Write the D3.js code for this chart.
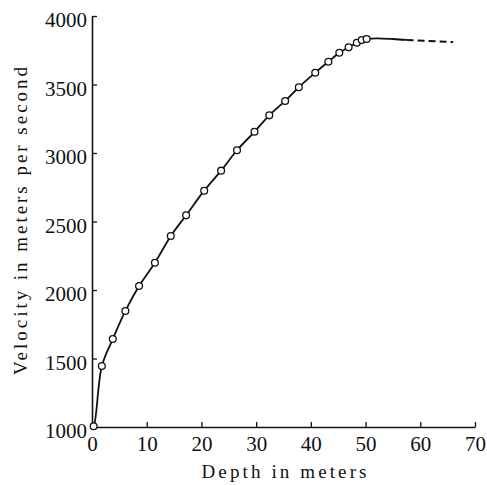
<!DOCTYPE html>
<html>
<head>
<meta charset="utf-8">
<script src="https://cdn.jsdelivr.net/npm/d3@7"></script>
<style>
  html, body { margin: 0; padding: 0; background: #fff; }
  svg { display: block; }
  text { font-family: "Liberation Serif", "DejaVu Serif", serif; fill: #111; }
</style>
</head>
<body>
<script>
// Measured points (depth in m, velocity in m/s)
const depths     = [0.3, 1.8, 3.8, 6.1, 8.6, 11.5, 14.4, 17.2, 20.5, 23.6, 26.5, 29.7, 32.4, 35.3, 37.8, 40.8, 43.2, 45.2, 46.9, 48.4, 49.3, 50.2];
const velocities = [1005, 1445, 1642, 1847, 2029, 2199, 2394, 2545, 2725, 2871, 3020, 3155, 3275, 3380, 3480, 3586, 3666, 3732, 3771, 3805, 3825, 3832];
// Continuation of the curve beyond the last measured point
const solidTailDepth = [52.0, 55.0, 57.5];
const solidTailVel   = [3837, 3832, 3825];
const dashDepth = [57.5, 66.0];
const dashVel   = [3825, 3810];
const xTicks = [0, 10, 20, 30, 40, 50, 60, 70];
const yTicks = [1000, 1500, 2000, 2500, 3000, 3500, 4000];
const xTitle = "Depth in meters";
const yTitle = "Velocity in meters per second";

const W = 487, H = 485;
const svg = d3.select("body").append("svg").attr("width", W).attr("height", H);

const x = d3.scaleLinear().domain([0, 70]).range([92, 475]);
const y = d3.scaleLinear().domain([1000, 4000]).range([427, 16]);

// axes
const xAxis = d3.axisBottom(x).tickValues(xTicks).tickFormat(d3.format("d")).tickSize(-5).tickPadding(9).tickSizeOuter(0);
const yAxis = d3.axisLeft(y).tickValues(yTicks).tickFormat(d3.format("d")).tickSize(-5).tickPadding(5).tickSizeOuter(0);

const gx = svg.append("g").attr("transform", "translate(0,427)").call(xAxis);
const gy = svg.append("g").attr("transform", "translate(92,0)").call(yAxis);
[gx, gy].forEach(g => {
  g.select(".domain").attr("stroke", "#111").attr("stroke-width", 1.6);
  g.selectAll(".tick line").attr("stroke", "#111").attr("stroke-width", 1.3);
  g.selectAll(".tick text").style("font-family", '"Liberation Serif", "DejaVu Serif", serif')
    .style("font-size", "21px").attr("fill", "#111");
});
gx.selectAll(".tick text").attr("dy", "0.72em");
gy.selectAll(".tick text").attr("dy", "0.5em");

// titles
svg.append("text").attr("x", 284).attr("y", 478).attr("text-anchor", "middle")
  .style("font-size", "19px").attr("textLength", 165).attr("lengthAdjust", "spacing").text(xTitle);
svg.append("text").attr("transform", "translate(27,221) rotate(-90)").attr("text-anchor", "middle")
  .style("font-size", "19px").attr("textLength", 308).attr("lengthAdjust", "spacing").text(yTitle);

// curve
const pts = [[0, 1000]].concat(depths.map((d, i) => [d, velocities[i]]))
  .concat(solidTailDepth.map((d, i) => [d, solidTailVel[i]]));
const line = d3.line().x(d => x(d[0])).y(d => y(d[1])).curve(d3.curveCatmullRom.alpha(0.5));
svg.append("path").datum(pts).attr("d", line).attr("fill", "none")
  .attr("stroke", "#111").attr("stroke-width", 1.8);

const dashPts = dashDepth.map((d, i) => [d, dashVel[i]]);
svg.append("path").datum(dashPts).attr("d", d3.line().x(d => x(d[0])).y(d => y(d[1])))
  .attr("fill", "none").attr("stroke", "#111").attr("stroke-width", 2)
  .attr("stroke-dasharray", "7,4");

// markers
svg.selectAll("circle.pt").data(depths).enter().append("circle")
  .attr("class", "pt")
  .attr("cx", d => x(d)).attr("cy", (d, i) => y(velocities[i])).attr("r", 3.4)
  .attr("fill", "#fff").attr("stroke", "#111").attr("stroke-width", 1.3);
</script>
</body>
</html>
